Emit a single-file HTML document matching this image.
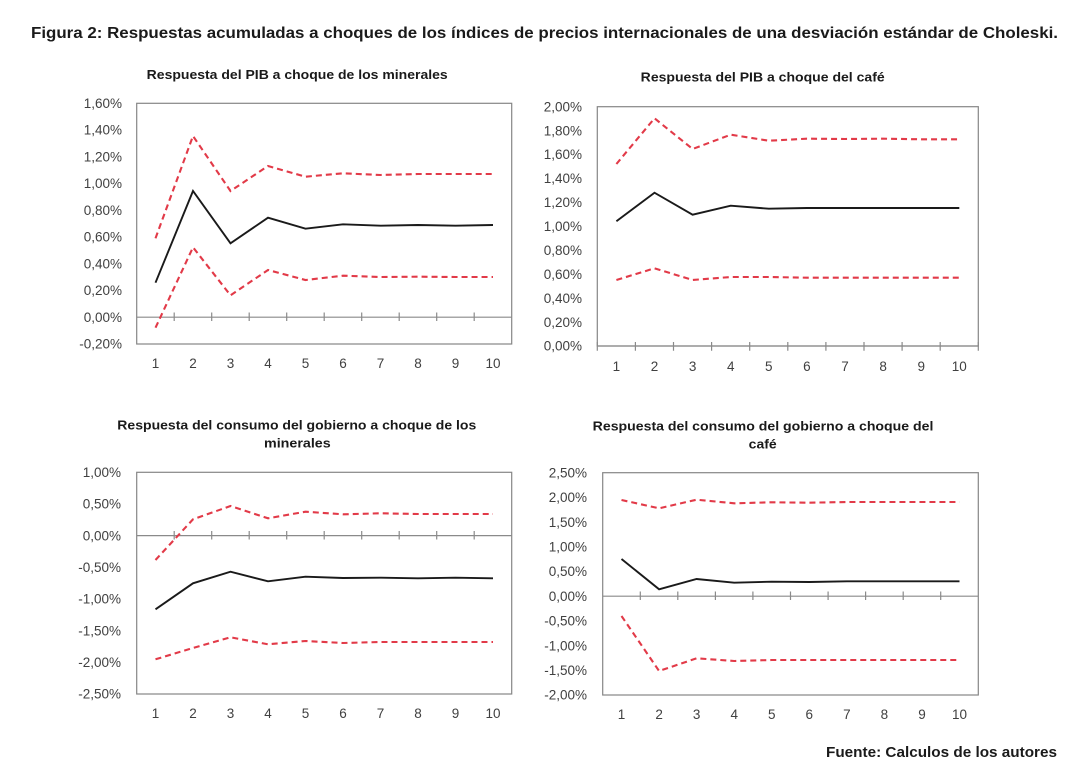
<!DOCTYPE html>
<html><head><meta charset="utf-8"><style>
html,body{margin:0;padding:0;background:#fff;}
svg{display:block;}
.t{font-family:"Liberation Sans",sans-serif;font-weight:bold;fill:#1a1a1a;}
.yl{font-family:"Liberation Sans",sans-serif;font-size:13.5px;fill:#404040;text-anchor:end;}
.xl{font-family:"Liberation Sans",sans-serif;font-size:13.5px;fill:#404040;text-anchor:middle;}
.box{fill:none;stroke:#868686;stroke-width:1.2;}
.ax{stroke:#8a8a8a;stroke-width:1.2;fill:none;}
.blk{fill:none;stroke:#1a1a1a;stroke-width:1.9;stroke-linejoin:miter;}
.red{fill:none;stroke:#e23a48;stroke-width:2.1;stroke-dasharray:6,4;}
</style></head><body>
<svg width="1077" height="783" viewBox="0 0 1077 783" xmlns="http://www.w3.org/2000/svg">
<rect width="1077" height="783" fill="#fff"/>
<text class="t" x="31" y="38" font-size="15.5" textLength="1027" lengthAdjust="spacingAndGlyphs">Figura 2: Respuestas acumuladas a choques de los índices de precios internacionales de una desviación estándar de Choleski.</text>

<!-- Chart 1 -->
<text class="t" x="146.7" y="79" font-size="12.5" textLength="301" lengthAdjust="spacingAndGlyphs">Respuesta del PIB a choque de los minerales</text>
<rect class="box" x="136.7" y="103.3" width="375" height="240.7"/>
<line class="ax" x1="136.7" y1="317.2" x2="511.7" y2="317.2"/>
<g class="ax">
<path d="M174.2 312.5V321M211.7 312.5V321M249.2 312.5V321M286.7 312.5V321M324.2 312.5V321M361.7 312.5V321M399.2 312.5V321M436.7 312.5V321M474.2 312.5V321"/>
</g>
<g>
<text class="yl" x="122" y="108">1,60%</text>
<text class="yl" x="122" y="134.7">1,40%</text>
<text class="yl" x="122" y="161.5">1,20%</text>
<text class="yl" x="122" y="188.2">1,00%</text>
<text class="yl" x="122" y="215">0,80%</text>
<text class="yl" x="122" y="241.7">0,60%</text>
<text class="yl" x="122" y="268.4">0,40%</text>
<text class="yl" x="122" y="295.2">0,20%</text>
<text class="yl" x="122" y="321.9">0,00%</text>
<text class="yl" x="122" y="348.7">-0,20%</text>
</g>
<g>
<text class="xl" x="155.5" y="368">1</text><text class="xl" x="193" y="368">2</text><text class="xl" x="230.5" y="368">3</text><text class="xl" x="268" y="368">4</text><text class="xl" x="305.5" y="368">5</text><text class="xl" x="343" y="368">6</text><text class="xl" x="380.5" y="368">7</text><text class="xl" x="418" y="368">8</text><text class="xl" x="455.5" y="368">9</text><text class="xl" x="493" y="368">10</text>
</g>
<polyline class="red" points="155.5,238.3 193,136 230.5,191 268,166 305.5,176.7 343,173.3 380.5,175 418,174 455.5,174 493,174"/>
<polyline class="red" points="155.5,327.7 193,247.3 230.5,295.3 268,270 305.5,280 343,275.7 380.5,277 418,276.7 455.5,277 493,277"/>
<polyline class="blk" points="155.5,282.7 193,191 230.5,243.3 268,217.7 305.5,228.7 343,224.3 380.5,225.7 418,225 455.5,225.7 493,225"/>

<!-- Chart 2 -->
<text class="t" x="640.7" y="81.5" font-size="12.5" textLength="244" lengthAdjust="spacingAndGlyphs">Respuesta del PIB a choque del café</text>
<rect class="box" x="597.3" y="106.7" width="381" height="239.3"/>
<line class="ax" x1="597.3" y1="346" x2="978.3" y2="346"/>
<g class="ax">
<path d="M635.4 342V350.7M673.5 342V350.7M711.6 342V350.7M749.7 342V350.7M787.8 342V350.7M825.9 342V350.7M864 342V350.7M902.1 342V350.7M940.2 342V350.7M978.3 342V350.7M597.3 342V350.7"/>
</g>
<g>
<text class="yl" x="582" y="111.4">2,00%</text>
<text class="yl" x="582" y="135.3">1,80%</text>
<text class="yl" x="582" y="159.2">1,60%</text>
<text class="yl" x="582" y="183.2">1,40%</text>
<text class="yl" x="582" y="207.1">1,20%</text>
<text class="yl" x="582" y="231">1,00%</text>
<text class="yl" x="582" y="255">0,80%</text>
<text class="yl" x="582" y="278.9">0,60%</text>
<text class="yl" x="582" y="302.8">0,40%</text>
<text class="yl" x="582" y="326.8">0,20%</text>
<text class="yl" x="582" y="350.7">0,00%</text>
</g>
<g>
<text class="xl" x="616.4" y="371">1</text><text class="xl" x="654.5" y="371">2</text><text class="xl" x="692.6" y="371">3</text><text class="xl" x="730.7" y="371">4</text><text class="xl" x="768.8" y="371">5</text><text class="xl" x="806.9" y="371">6</text><text class="xl" x="845" y="371">7</text><text class="xl" x="883.1" y="371">8</text><text class="xl" x="921.2" y="371">9</text><text class="xl" x="959.3" y="371">10</text>
</g>
<polyline class="red" points="616.4,164 654.5,118.3 692.6,149 730.7,134.7 768.8,140.7 806.9,138.7 845,139 883.1,138.7 921.2,139.3 959.3,139.3"/>
<polyline class="red" points="616.4,280 654.5,268.3 692.6,280 730.7,277 768.8,277 806.9,277.7 845,277.7 883.1,277.7 921.2,277.7 959.3,277.7"/>
<polyline class="blk" points="616.4,221.3 654.5,192.7 692.6,214.7 730.7,205.7 768.8,208.7 806.9,208 845,208 883.1,208 921.2,208 959.3,208"/>

<!-- Chart 3 -->
<text class="t" x="117.3" y="429.3" font-size="12.5" textLength="359" lengthAdjust="spacingAndGlyphs">Respuesta del consumo del gobierno a choque de los</text>
<text class="t" x="264" y="447.3" font-size="12.5" textLength="66.7" lengthAdjust="spacingAndGlyphs">minerales</text>
<rect class="box" x="136.7" y="472.3" width="375" height="221.7"/>
<line class="ax" x1="136.7" y1="535.6" x2="511.7" y2="535.6"/>
<g class="ax">
<path d="M174.2 531V539.5M211.7 531V539.5M249.2 531V539.5M286.7 531V539.5M324.2 531V539.5M361.7 531V539.5M399.2 531V539.5M436.7 531V539.5M474.2 531V539.5"/>
</g>
<g>
<text class="yl" x="121" y="477">1,00%</text>
<text class="yl" x="121" y="508.7">0,50%</text>
<text class="yl" x="121" y="540.3">0,00%</text>
<text class="yl" x="121" y="572">-0,50%</text>
<text class="yl" x="121" y="603.7">-1,00%</text>
<text class="yl" x="121" y="635.4">-1,50%</text>
<text class="yl" x="121" y="667">-2,00%</text>
<text class="yl" x="121" y="698.7">-2,50%</text>
</g>
<g>
<text class="xl" x="155.5" y="718">1</text><text class="xl" x="193" y="718">2</text><text class="xl" x="230.5" y="718">3</text><text class="xl" x="268" y="718">4</text><text class="xl" x="305.5" y="718">5</text><text class="xl" x="343" y="718">6</text><text class="xl" x="380.5" y="718">7</text><text class="xl" x="418" y="718">8</text><text class="xl" x="455.5" y="718">9</text><text class="xl" x="493" y="718">10</text>
</g>
<polyline class="red" points="155.5,560 193,519.3 230.5,506 268,518.3 305.5,511.7 343,514.3 380.5,513.3 418,514 455.5,514 493,514"/>
<polyline class="red" points="155.5,659.3 193,648 230.5,637.3 268,644.3 305.5,641 343,643 380.5,642 418,642 455.5,642 493,642"/>
<polyline class="blk" points="155.5,609.3 193,583.3 230.5,571.7 268,581.3 305.5,576.7 343,578 380.5,577.7 418,578.3 455.5,577.7 493,578.3"/>

<!-- Chart 4 -->
<text class="t" x="592.7" y="430.7" font-size="12.5" textLength="340.7" lengthAdjust="spacingAndGlyphs">Respuesta del consumo del gobierno a choque del</text>
<text class="t" x="748.7" y="448.7" font-size="12.5" textLength="28" lengthAdjust="spacingAndGlyphs">café</text>
<rect class="box" x="602.7" y="472.7" width="375.6" height="222.3"/>
<line class="ax" x1="602.7" y1="596.2" x2="978.3" y2="596.2"/>
<g class="ax">
<path d="M640.3 591.5V600M677.8 591.5V600M715.4 591.5V600M752.9 591.5V600M790.5 591.5V600M828.1 591.5V600M865.6 591.5V600M903.2 591.5V600M940.7 591.5V600"/>
</g>
<g>
<text class="yl" x="587" y="477.4">2,50%</text>
<text class="yl" x="587" y="502.1">2,00%</text>
<text class="yl" x="587" y="526.8">1,50%</text>
<text class="yl" x="587" y="551.5">1,00%</text>
<text class="yl" x="587" y="576.2">0,50%</text>
<text class="yl" x="587" y="600.9">0,00%</text>
<text class="yl" x="587" y="625.6">-0,50%</text>
<text class="yl" x="587" y="650.3">-1,00%</text>
<text class="yl" x="587" y="675">-1,50%</text>
<text class="yl" x="587" y="699.7">-2,00%</text>
</g>
<g>
<text class="xl" x="621.5" y="719">1</text><text class="xl" x="659.1" y="719">2</text><text class="xl" x="696.6" y="719">3</text><text class="xl" x="734.2" y="719">4</text><text class="xl" x="771.7" y="719">5</text><text class="xl" x="809.3" y="719">6</text><text class="xl" x="846.9" y="719">7</text><text class="xl" x="884.4" y="719">8</text><text class="xl" x="922" y="719">9</text><text class="xl" x="959.5" y="719">10</text>
</g>
<polyline class="red" points="621.5,500 659.1,508.3 696.6,499.7 734.2,503.3 771.7,502.3 809.3,502.7 846.9,502 884.4,502 922,502 959.5,502"/>
<polyline class="red" points="621.5,616 659.1,671 696.6,658.3 734.2,661 771.7,660 809.3,660 846.9,660 884.4,660 922,660 959.5,660"/>
<polyline class="blk" points="621.5,559 659.1,589.3 696.6,579 734.2,582.7 771.7,581.7 809.3,582 846.9,581.3 884.4,581.3 922,581.3 959.5,581.3"/>

<text class="t" x="826" y="757" font-size="14.5" textLength="231" lengthAdjust="spacingAndGlyphs">Fuente: Calculos de los autores</text>
</svg>
</body></html>
